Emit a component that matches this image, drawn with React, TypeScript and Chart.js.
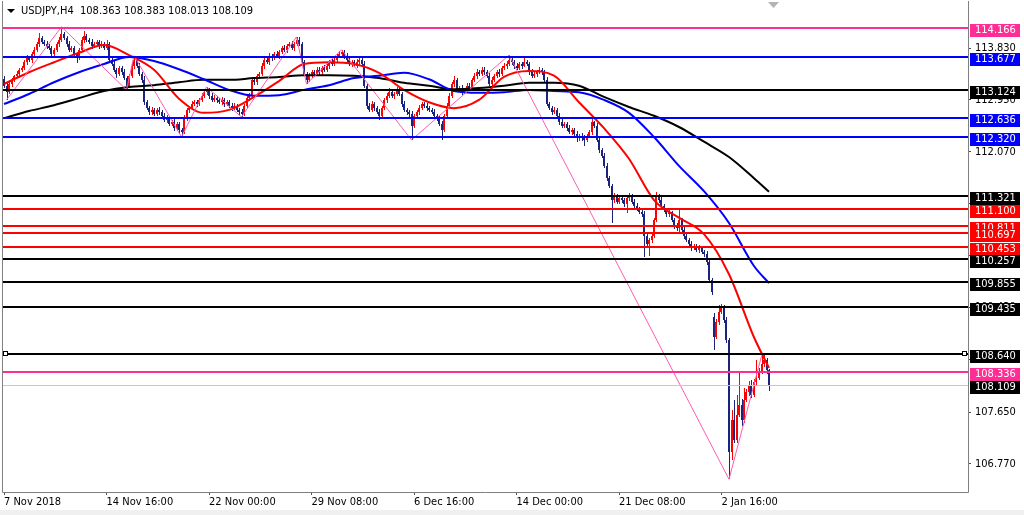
import React, { useEffect, useRef } from "react";
import { Chart, registerables } from "chart.js";

Chart.register(...registerables);

// ---------- DATA ----------
const symbolTitle = "USDJPY,H4";
const titleQuote = ["108.363", "108.383", "108.013", "108.109"];

const firstOpen = 113.3;
const closes = [
  113.19, 113.08, 113.22, 113.29, 113.36, 113.39, 113.46, 113.49, 113.59, 113.66,
  113.63, 113.73, 113.8, 113.9, 114.0, 113.93, 113.9, 113.87, 113.83, 113.73,
  113.8, 113.9, 113.97, 114.07, 114.0, 113.9, 113.8, 113.83, 113.73, 113.66,
  113.8, 113.97, 114.03, 113.97, 113.93, 113.87, 113.9, 113.93, 113.87, 113.9,
  113.83, 113.9, 113.63, 113.56, 113.46, 113.39, 113.49, 113.42, 113.32, 113.19,
  113.36, 113.53, 113.63, 113.53, 113.39, 113.29, 112.91, 112.81, 112.74, 112.78,
  112.71, 112.78, 112.74, 112.68, 112.61, 112.64, 112.54, 112.57, 112.47, 112.54,
  112.44, 112.4, 112.64, 112.78, 112.81, 112.88, 112.91, 112.88, 112.95, 113.02,
  113.08, 113.12, 113.02, 112.95, 112.98, 112.95, 112.91, 112.95, 112.88, 112.91,
  112.85, 112.81, 112.85, 112.78, 112.74, 112.71, 112.85, 112.98, 113.02, 113.29,
  113.25, 113.36, 113.39, 113.53, 113.63, 113.59, 113.7, 113.66, 113.73, 113.7,
  113.76, 113.83, 113.8, 113.87, 113.9, 113.83, 113.9, 113.97, 113.9, 113.59,
  113.39, 113.29, 113.36, 113.42, 113.39, 113.46, 113.42, 113.49, 113.46, 113.53,
  113.59, 113.56, 113.63, 113.7, 113.73, 113.76, 113.7, 113.63, 113.56, 113.59,
  113.53, 113.59, 113.63, 113.56, 113.19, 112.85, 112.78, 112.88, 112.81, 112.74,
  112.68, 112.81, 112.95, 113.02, 113.08, 113.02, 113.05, 113.12, 113.05, 112.88,
  112.78, 112.74, 112.71, 112.51, 112.68, 112.74, 112.81, 112.88, 112.85, 112.81,
  112.78, 112.74, 112.68, 112.64, 112.54, 112.44, 112.68, 112.85, 113.02, 113.22,
  113.29, 113.12, 113.15, 113.08, 113.12, 113.19, 113.15, 113.29, 113.36, 113.42,
  113.39, 113.46, 113.42, 113.36, 113.22, 113.29, 113.36, 113.42, 113.39, 113.49,
  113.53, 113.56, 113.63, 113.59, 113.53, 113.49, 113.56, 113.53, 113.59, 113.56,
  113.42, 113.36, 113.39, 113.42, 113.46, 113.42, 113.29, 112.88, 112.81, 112.74,
  112.78, 112.68, 112.57, 112.51, 112.54, 112.47, 112.4, 112.44, 112.37, 112.3,
  112.34, 112.3, 112.27, 112.34, 112.4, 112.57, 112.51, 112.27, 112.1, 112.0,
  111.83, 111.62, 111.49, 111.25, 111.32, 111.22, 111.28, 111.25, 111.18, 111.28,
  111.32, 111.22, 111.15, 111.11, 111.04, 111.01, 110.64, 110.5, 110.57, 110.64,
  110.91, 111.32, 111.25, 111.15, 111.08, 111.01, 111.04, 110.91, 110.81, 110.77,
  110.91, 110.74, 110.64, 110.57, 110.5, 110.44, 110.47, 110.4, 110.44, 110.37,
  110.33, 110.2, 109.89, 109.69, 108.93, 109.18, 109.35, 109.42, 109.21, 108.87,
  106.97, 107.52, 107.18, 107.6, 107.77, 107.52, 107.86, 107.99, 108.11, 107.94,
  108.16, 108.23, 108.33, 108.47, 108.53, 108.363, 108.109,
];
const upperWicks = [
  0.05, 0.04, 0.03, 0.04, 0.02, 0.05, 0.03, 0.04, 0.03, 0.05,
  0.04, 0.03, 0.05, 0.04, 0.09, 0.03, 0.04, 0.05, 0.03, 0.04,
  0.03, 0.04, 0.05, 0.12, 0.04, 0.03, 0.05, 0.04, 0.03, 0.04,
  0.03, 0.05, 0.09, 0.04, 0.03, 0.05, 0.04, 0.03, 0.04, 0.05,
  0.04, 0.06, 0.03, 0.04, 0.05, 0.03, 0.04, 0.03, 0.05, 0.04,
  0.03, 0.04, 0.07, 0.03, 0.05, 0.04, 0.06, 0.03, 0.04, 0.05,
  0.03, 0.04, 0.05, 0.03, 0.04, 0.05, 0.03, 0.04, 0.05, 0.03,
  0.04, 0.03, 0.05, 0.04, 0.03, 0.05, 0.04, 0.03, 0.04, 0.05,
  0.04, 0.05, 0.03, 0.04, 0.05, 0.03, 0.04, 0.05, 0.03, 0.04,
  0.03, 0.05, 0.04, 0.03, 0.04, 0.05, 0.03, 0.04, 0.05, 0.04,
  0.05, 0.03, 0.04, 0.05, 0.03, 0.04, 0.05, 0.03, 0.04, 0.05,
  0.03, 0.04, 0.05, 0.03, 0.04, 0.05, 0.03, 0.05, 0.04, 0.03,
  0.04, 0.03, 0.05, 0.04, 0.03, 0.05, 0.04, 0.03, 0.05, 0.04,
  0.03, 0.05, 0.04, 0.03, 0.05, 0.04, 0.03, 0.05, 0.04, 0.03,
  0.04, 0.05, 0.03, 0.04, 0.05, 0.03, 0.04, 0.05, 0.03, 0.04,
  0.05, 0.03, 0.04, 0.05, 0.07, 0.03, 0.04, 0.05, 0.03, 0.04,
  0.05, 0.03, 0.04, 0.05, 0.03, 0.04, 0.05, 0.03, 0.04, 0.05,
  0.03, 0.04, 0.05, 0.03, 0.04, 0.05, 0.03, 0.04, 0.05, 0.04,
  0.07, 0.03, 0.04, 0.05, 0.03, 0.04, 0.05, 0.03, 0.04, 0.05,
  0.03, 0.04, 0.05, 0.03, 0.04, 0.05, 0.03, 0.04, 0.05, 0.03,
  0.04, 0.05, 0.08, 0.03, 0.04, 0.05, 0.03, 0.04, 0.07, 0.03,
  0.04, 0.05, 0.03, 0.04, 0.05, 0.03, 0.04, 0.05, 0.03, 0.04,
  0.05, 0.03, 0.04, 0.05, 0.03, 0.04, 0.05, 0.03, 0.04, 0.05,
  0.03, 0.04, 0.05, 0.03, 0.04, 0.09, 0.03, 0.04, 0.05, 0.03,
  0.04, 0.05, 0.03, 0.04, 0.05, 0.03, 0.04, 0.05, 0.03, 0.04,
  0.05, 0.03, 0.04, 0.05, 0.03, 0.04, 0.05, 0.03, 0.04, 0.05,
  0.03, 0.07, 0.04, 0.05, 0.03, 0.04, 0.05, 0.03, 0.04, 0.05,
  0.2, 0.04, 0.05, 0.03, 0.04, 0.05, 0.03, 0.04, 0.05, 0.03,
  0.04, 0.05, 0.03, 0.04, 0.07, 0.05, 0.12, 0.07, 0.04, 0.05,
  0.03, 0.17, 0.34, 0.34, 0.54, 0.1, 0.2, 0.05, 0.06, 0.08,
  0.05, 0.3, 0.06, 0.13, 0.09, 0.03, 0.02,
];
const lowerWicks = [
  0.04, 0.13, 0.03, 0.05, 0.04, 0.03, 0.05, 0.04, 0.03, 0.05,
  0.04, 0.05, 0.03, 0.04, 0.05, 0.03, 0.04, 0.05, 0.03, 0.06,
  0.04, 0.03, 0.05, 0.04, 0.03, 0.05, 0.04, 0.03, 0.05, 0.08,
  0.04, 0.03, 0.05, 0.04, 0.03, 0.05, 0.04, 0.03, 0.05, 0.04,
  0.03, 0.04, 0.05, 0.03, 0.04, 0.07, 0.03, 0.05, 0.04, 0.07,
  0.04, 0.03, 0.05, 0.04, 0.03, 0.05, 0.04, 0.03, 0.05, 0.04,
  0.04, 0.03, 0.05, 0.04, 0.03, 0.05, 0.04, 0.03, 0.05, 0.04,
  0.05, 0.08, 0.03, 0.04, 0.05, 0.03, 0.04, 0.05, 0.03, 0.04,
  0.03, 0.04, 0.05, 0.03, 0.04, 0.05, 0.03, 0.04, 0.05, 0.03,
  0.04, 0.05, 0.03, 0.04, 0.05, 0.05, 0.03, 0.04, 0.05, 0.03,
  0.04, 0.05, 0.03, 0.04, 0.05, 0.03, 0.04, 0.05, 0.03, 0.04,
  0.05, 0.03, 0.04, 0.05, 0.03, 0.04, 0.05, 0.03, 0.04, 0.05,
  0.04, 0.07, 0.03, 0.04, 0.05, 0.03, 0.04, 0.05, 0.03, 0.04,
  0.05, 0.03, 0.04, 0.05, 0.03, 0.04, 0.05, 0.03, 0.04, 0.05,
  0.03, 0.04, 0.05, 0.03, 0.04, 0.05, 0.03, 0.04, 0.05, 0.03,
  0.07, 0.03, 0.04, 0.05, 0.03, 0.04, 0.05, 0.03, 0.04, 0.05,
  0.03, 0.04, 0.05, 0.24, 0.04, 0.03, 0.05, 0.04, 0.03, 0.05,
  0.04, 0.03, 0.05, 0.04, 0.03, 0.17, 0.04, 0.05, 0.03, 0.04,
  0.05, 0.03, 0.04, 0.05, 0.03, 0.04, 0.05, 0.03, 0.04, 0.05,
  0.03, 0.04, 0.05, 0.03, 0.04, 0.05, 0.03, 0.04, 0.05, 0.03,
  0.04, 0.05, 0.03, 0.04, 0.05, 0.03, 0.04, 0.05, 0.03, 0.04,
  0.05, 0.03, 0.04, 0.05, 0.03, 0.04, 0.05, 0.03, 0.04, 0.05,
  0.03, 0.04, 0.05, 0.03, 0.04, 0.05, 0.03, 0.04, 0.05, 0.06,
  0.04, 0.05, 0.1, 0.04, 0.03, 0.05, 0.04, 0.03, 0.05, 0.04,
  0.03, 0.05, 0.04, 0.39, 0.05, 0.04, 0.03, 0.05, 0.04, 0.15,
  0.04, 0.03, 0.05, 0.04, 0.03, 0.05, 0.36, 0.04, 0.2, 0.05,
  0.04, 0.03, 0.05, 0.04, 0.03, 0.05, 0.04, 0.03, 0.05, 0.04,
  0.06, 0.04, 0.05, 0.03, 0.04, 0.05, 0.03, 0.04, 0.05, 0.03,
  0.04, 0.05, 0.03, 0.06, 0.23, 0.04, 0.05, 0.03, 0.04, 0.05,
  0.46, 0.13, 0.05, 0.06, 0.04, 0.1, 0.05, 0.04, 0.06, 0.05,
  0.04, 0.05, 0.03, 0.04, 0.05, 0.06, 0.096,
];
const gapOpenBars = [284];
const gapOpenPrices = [109.26];

const maBars = [0, 10, 20, 30, 40, 50, 60, 70, 80, 90, 100, 110, 120, 130, 140, 150, 160, 170, 180, 190, 200, 210, 220, 230, 240, 250, 260, 270, 280, 290, 300, 306];
const maRed = [113.22, 113.42, 113.59, 113.75, 113.88, 113.71, 113.46, 112.97, 112.73, 112.78, 113.0, 113.27, 113.56, 113.59, 113.56, 113.41, 113.12, 112.91, 112.81, 112.95, 113.34, 113.44, 113.36, 112.91, 112.47, 111.95, 111.25, 110.95, 110.67, 109.99, 108.92, 108.4];
const maBlue = [112.88, 113.05, 113.25, 113.42, 113.56, 113.68, 113.61, 113.47, 113.3, 113.12, 113.02, 113.03, 113.12, 113.2, 113.32, 113.36, 113.41, 113.3, 113.1, 113.07, 113.08, 113.12, 113.1, 113.08, 112.95, 112.73, 112.32, 111.83, 111.4, 110.86, 110.13, 109.84];
const maBlack = [112.64, 112.76, 112.86, 112.98, 113.1, 113.17, 113.2, 113.25, 113.29, 113.29, 113.32, 113.34, 113.37, 113.37, 113.36, 113.32, 113.24, 113.19, 113.13, 113.15, 113.19, 113.24, 113.24, 113.19, 113.0, 112.83, 112.68, 112.49, 112.24, 111.98, 111.62, 111.39];

const zigzagBars = [1, 23, 49, 52, 71, 81, 95, 117, 121, 135, 163, 202, 290, 303];
const zigzagPrices = [112.95, 114.19, 113.12, 113.7, 112.32, 113.17, 112.66, 114.02, 113.22, 113.8, 112.27, 113.71, 106.51, 108.6];

const levelPrices = [114.166, 113.677, 113.124, 112.636, 112.32, 111.321, 111.1, 110.811, 110.697, 110.453, 110.257, 109.855, 109.435, 108.64, 108.336];
const levelColors = ["#ff2d95", "#0000ff", "#000000", "#0000ff", "#0000ff", "#000000", "#ff0000", "#ff0000", "#ff0000", "#ff0000", "#000000", "#000000", "#000000", "#000000", "#ff2d95"];
const selectedLevel = 108.64;
const bidPrice = 108.109;

const yTickValues = [113.83, 112.95, 112.07, 111.19, 110.31, 109.43, 108.55, 107.65, 106.77];
const xTickBars = [0, 41, 82, 123, 164, 205, 246, 287];
const xTickLabels = ["7 Nov 2018", "14 Nov 16:00", "22 Nov 00:00", "29 Nov 08:00", "6 Dec 16:00", "14 Dec 00:00", "21 Dec 08:00", "2 Jan 16:00"];

// ---------- STYLE ----------
const FONT_FAMILY = '"DejaVu Sans Condensed", "Liberation Sans", Arial, sans-serif';
const BULL = "#ff0000";
const BEAR = "#1a237e";

const candlePlugin = {
  id: "candles",
  beforeDatasetsDraw(chart: any) {
    const { ctx, chartArea, scales } = chart;
    const x = scales.x;
    const y = scales.y;
    ctx.save();
    ctx.beginPath();
    ctx.rect(chartArea.left, chartArea.top, chartArea.right - chartArea.left, chartArea.bottom - chartArea.top);
    ctx.clip();
    for (let i = 0; i < closes.length; i++) {
      const g = gapOpenBars.indexOf(i);
      const o = g >= 0 ? gapOpenPrices[g] : i === 0 ? firstOpen : closes[i - 1];
      const c = closes[i];
      const hi = Math.max(o, c) + upperWicks[i];
      const lo = Math.min(o, c) - lowerWicks[i];
      const px = Math.round(x.getPixelForValue(i));
      ctx.fillStyle = c >= o ? BULL : BEAR;
      const yh = Math.round(y.getPixelForValue(hi));
      const yl = Math.round(y.getPixelForValue(lo));
      ctx.fillRect(px, yh, 1, Math.max(1, yl - yh));
      const yo = y.getPixelForValue(o);
      const yc = y.getPixelForValue(c);
      const top = Math.round(Math.min(yo, yc));
      const bot = Math.round(Math.max(yo, yc));
      ctx.fillRect(px - 1, top, 2, Math.max(1, bot - top));
    }
    ctx.restore();
  },
};

const overlayPlugin = {
  id: "overlay",
  afterDraw(chart: any) {
    const { ctx, chartArea, scales } = chart;
    const y = scales.y;
    const left = chartArea.left;
    const right = chartArea.right;
    ctx.save();

    // horizontal levels
    for (let k = 0; k < levelPrices.length; k++) {
      const py = Math.round(y.getPixelForValue(levelPrices[k]));
      ctx.fillStyle = levelColors[k];
      ctx.fillRect(left, py - 1, right - left, 2);
    }
    const by = Math.round(y.getPixelForValue(bidPrice));
    ctx.fillStyle = "#c8c8c8";
    ctx.fillRect(left, by, right - left, 1);

    // selection handles
    const sy = Math.round(y.getPixelForValue(selectedLevel));
    ctx.fillStyle = "#ffffff";
    ctx.strokeStyle = "#000000";
    ctx.lineWidth = 1;
    [left + 2, right - 4].forEach((hx) => {
      ctx.fillRect(hx - 2, sy - 3, 4, 4);
      ctx.strokeRect(hx - 2 + 0.5, sy - 3 + 0.5, 4, 4);
    });

    // frame
    ctx.strokeStyle = "#808080";
    ctx.beginPath();
    ctx.moveTo(left - 0.5, chartArea.top - 1);
    ctx.lineTo(left - 0.5, chartArea.bottom + 0.5);
    ctx.lineTo(right + 0.5, chartArea.bottom + 0.5);
    ctx.lineTo(right + 0.5, chartArea.top - 1);
    ctx.stroke();

    // price boxes
    ctx.font = `11px ${FONT_FAMILY}`;
    ctx.textBaseline = "middle";
    ctx.textAlign = "left";
    const drawBox = (price: number, bg: string) => {
      const py = Math.round(y.getPixelForValue(price));
      ctx.fillStyle = bg;
      ctx.fillRect(right + 2, py - 4, 50, 13);
      ctx.fillStyle = "#ffffff";
      ctx.fillText(price.toFixed(3), right + 7, py + 2.5);
    };
    for (let k = 0; k < levelPrices.length; k++) drawBox(levelPrices[k], levelColors[k]);
    drawBox(bidPrice, "#000000");

    // shift marker
    ctx.fillStyle = "#b4b4b4";
    ctx.beginPath();
    ctx.moveTo(768, 2);
    ctx.lineTo(779, 2);
    ctx.lineTo(773.5, 8);
    ctx.closePath();
    ctx.fill();

    // title
    ctx.fillStyle = "#000000";
    ctx.beginPath();
    ctx.moveTo(7, 9);
    ctx.lineTo(15, 9);
    ctx.lineTo(11, 13);
    ctx.closePath();
    ctx.fill();
    ctx.font = `11px ${FONT_FAMILY}`;
    ctx.textBaseline = "middle";
    ctx.fillText(`${symbolTitle}  ${titleQuote.join(" ")}`, 21, 11.5);

    // window bottom band
    ctx.fillStyle = "#f0f0f0";
    ctx.fillRect(0, 510, 1024, 5);
    ctx.restore();
  },
};

export default function App() {
  const ref = useRef<HTMLCanvasElement | null>(null);

  useEffect(() => {
    if (!ref.current) return;
    const line = (bars: number[], vals: number[], color: string, width: number, smooth: boolean) => ({
      data: bars.map((b, k) => ({ x: b, y: vals[k] })),
      borderColor: color,
      borderWidth: width,
      pointRadius: 0,
      fill: false,
      cubicInterpolationMode: smooth ? "monotone" : "default",
      tension: 0,
    });
    const chart = new Chart(ref.current, {
      type: "line",
      data: {
        datasets: [
          line(zigzagBars, zigzagPrices, "#ff5cb0", 1, false),
          line(maBars, maRed, "#ff0000", 2, true),
          line(maBars, maBlue, "#0000ff", 2, true),
          line(maBars, maBlack, "#000000", 2, true),
        ] as any,
      },
      options: {
        animation: false,
        responsive: false,
        devicePixelRatio: 1,
        events: [],
        layout: { padding: { left: 3, top: 2, right: 0, bottom: 0 } },
        plugins: { legend: { display: false }, tooltip: { enabled: false } },
        scales: {
          x: {
            type: "linear",
            position: "bottom",
            min: -0.4,
            max: 385.6,
            border: { display: false },
            grid: { drawOnChartArea: false, drawTicks: true, tickLength: 3, color: "#505050" },
            ticks: {
              autoSkip: false,
              maxRotation: 0,
              minRotation: 0,
              align: "start",
              padding: 1,
              color: "#000000",
              font: { family: FONT_FAMILY, size: 11 },
              callback: (v: any) => {
                const k = xTickBars.indexOf(Number(v));
                return k >= 0 ? xTickLabels[k] : "";
              },
            },
            afterBuildTicks: (s: any) => {
              s.ticks = xTickBars.map((b) => ({ value: b }));
            },
            afterFit: (s: any) => {
              s.height = 23;
              s.paddingLeft = 0;
              s.paddingRight = 0;
            },
          },
          y: {
            type: "linear",
            position: "right",
            min: 106.293,
            max: 114.612,
            border: { display: false },
            grid: { drawOnChartArea: false, drawTicks: true, tickLength: 3, color: "#505050" },
            ticks: {
              autoSkip: false,
              padding: 4,
              color: "#000000",
              font: { family: FONT_FAMILY, size: 11 },
              callback: (v: any) => Number(v).toFixed(3),
            },
            afterBuildTicks: (s: any) => {
              s.ticks = yTickValues.map((v) => ({ value: v }));
            },
            afterFit: (s: any) => {
              s.width = 56;
              s.paddingTop = 0;
              s.paddingBottom = 0;
            },
          },
        },
      } as any,
      plugins: [candlePlugin, overlayPlugin],
    });
    return () => chart.destroy();
  }, []);

  return (
    <div style={{ position: "fixed", left: 0, top: 0, width: 1024, height: 515, background: "#ffffff" }}>
      <canvas ref={ref} width={1024} height={515} style={{ display: "block" }} />
    </div>
  );
}
